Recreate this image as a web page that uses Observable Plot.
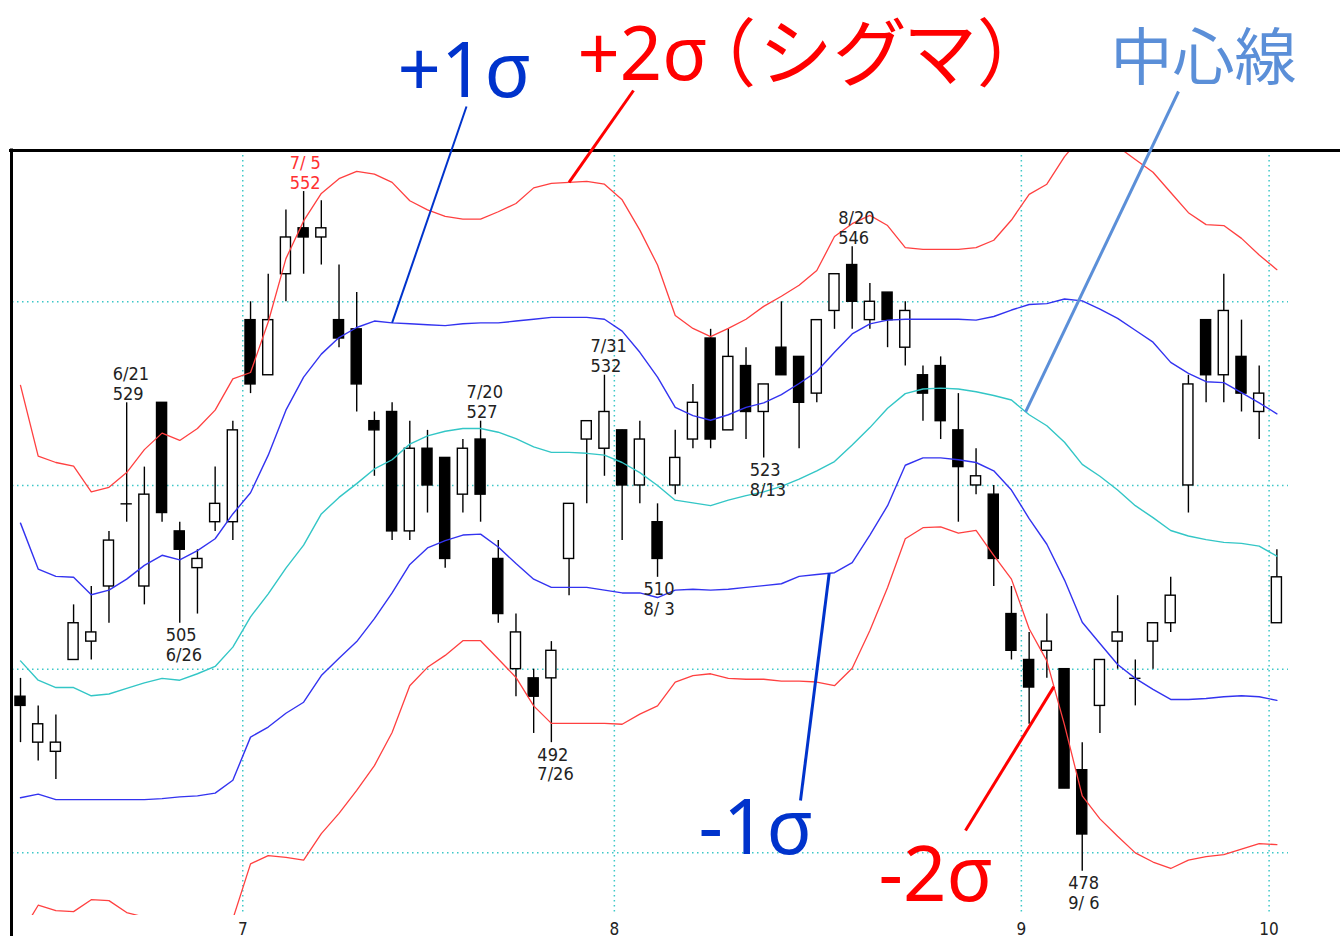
<!DOCTYPE html>
<html>
<head>
<meta charset="utf-8">
<script src="https://cdn.jsdelivr.net/npm/d3@7"></script>
<script src="https://cdn.jsdelivr.net/npm/@observablehq/plot@0.6"></script>
<style>
  html, body { margin: 0; padding: 0; background: #fff; }
  #chart svg { display: block; }
  #chart text { font-feature-settings: "palt" 1; }
</style>
</head>
<body>
<div id="chart"></div>
<script>
// ---- data ----
const dates = [
  "6/13","6/14","6/15","6/18","6/19","6/20","6/21","6/22","6/25","6/26","6/27","6/28","6/29",
  "7/2","7/3","7/4","7/5","7/6","7/9","7/10","7/11","7/12","7/13","7/17","7/18","7/19","7/20",
  "7/23","7/24","7/25","7/26","7/27","7/30","7/31",
  "8/1","8/2","8/3","8/6","8/7","8/8","8/9","8/10","8/13","8/14","8/15","8/16","8/17","8/20",
  "8/21","8/22","8/23","8/24","8/27","8/28","8/29","8/30","8/31",
  "9/3","9/4","9/5","9/6","9/7","9/10","9/11","9/12","9/13","9/14","9/18","9/19","9/20","9/21",
  "10/1"
];
const open  = [497,492,491,501,503,509,518,509,529,515,511,516,516,
  538,532,543,548,547,538,537,527,528,515,524,523,519,525,512,500,499,499,512,525,524,
  526,520,516,520,525,536,526,533,528,535,534,530,539,544,538,541,535,532,533,526,520,519,506,
  501,502,500,489,496,503,499,503,505,520,538,532,534,528,505];
const high  = [499,496,495,507,509,515,529,522,529,516,513,522,527,
  540,543,550,552,551,544,541,528,529,527,526,523,525,527,514,506,500,503,518,527,532,
  526,527,518,526,531,537,537,535,531,540,534,538,543,546,542,541,540,533,534,530,524,520,509,
  504,506,500,492,501,508,501,505,510,532,538,543,538,533,513];
const low   = [492,490,488,501,501,505,516,507,516,505,506,515,514,
  530,532,540,543,544,535,528,521,514,514,517,511,517,516,505,497,493,492,508,518,521,
  514,518,510,519,524,524,526,525,523,532,524,529,537,537,537,535,533,527,525,516,519,509,501,
  494,499,487,478,493,500,496,500,504,517,529,529,528,525,505];
const close = [496,494,492,505,504,514,518,519,517,513,512,518,526,
  531,538,547,547,548,536,531,526,515,524,520,512,524,519,506,504,497,502,518,527,528,
  520,525,512,523,529,525,534,528,531,532,529,538,543,540,540,538,539,530,527,522,521,512,502,
  498,503,487,482,501,504,499,505,508,531,532,539,530,530,510];

const mid = [500.9,498.8,498.0,498.0,497.1,497.3,497.9,498.5,499.0,498.8,499.5,500.3,502.4,
  505.7,508.2,511.0,513.5,516.9,518.7,520.2,521.8,522.8,524.5,525.4,525.9,526.2,526.2,
  525.8,525.1,524.2,523.6,523.6,523.5,523.3,522.5,521.4,520.0,518.4,518.1,517.8,518.4,
  518.9,519.3,519.9,520.7,521.6,522.6,524.4,526.3,528.4,530.0,530.5,530.6,530.5,530.2,
  529.8,529.3,527.7,526.5,524.7,522.3,521.0,519.5,517.8,516.5,515.1,514.5,514.1,513.8,
  513.7,513.4,512.3];
const upper1 = [515.9,510.9,510.1,510.0,508.1,508.6,509.8,511.3,512.4,511.9,512.9,514.2,516.9,
  519.2,523.3,528.2,531.8,534.3,536.1,537.2,537.9,537.7,537.6,537.5,537.4,537.6,537.7,
  537.7,537.9,538.1,538.3,538.3,538.3,538.1,536.8,534.5,531.8,528.5,527.6,527.1,527.7,
  528.5,529.0,529.9,531.1,532.4,534.5,536.5,537.6,538.0,538.1,538.1,538.1,538.1,538.0,
  538.4,539.1,539.7,539.8,540.3,540.1,539.2,538.2,536.9,535.6,533.4,532.2,531.3,531.2,
  530.1,529.0,527.8];
const lower1 = [486.0,486.4,485.8,485.8,485.8,485.8,485.8,485.8,485.9,486.1,486.2,486.5,487.9,
  492.6,493.7,495.2,496.4,499.3,501.2,503.0,505.5,508.3,511.4,513.2,514.0,514.6,514.7,
  513.3,511.5,509.8,508.9,508.9,508.9,508.6,508.3,508.3,507.8,508.6,508.7,508.6,508.7,
  508.9,509.1,509.3,510.1,510.3,510.5,511.6,514.6,517.8,522.2,523.0,523.0,522.8,522.5,
  521.6,519.5,516.4,513.6,509.7,505.1,502.8,500.5,499.0,497.8,496.7,496.7,496.8,497.0,
  497.1,497.0,496.6];
const upper2 = [530.9,523.2,522.5,522.1,519.3,519.8,521.4,523.9,525.7,524.9,526.2,528.2,531.6,
  532.3,537.8,544.7,548.8,551.8,553.4,554.2,553.9,553.0,551.0,550.0,549.3,549.0,549.0,
  549.8,550.7,552.4,552.9,553.0,553.1,552.8,551.1,547.8,544.0,538.5,537.1,536.2,537.1,
  538.1,539.5,540.6,541.8,543.4,547.1,548.5,549.4,548.3,545.9,545.7,545.7,545.7,545.9,
  546.7,548.9,551.7,552.8,555.8,558.1,557.4,556.9,555.5,554.1,551.9,549.7,548.4,548.3,
  546.9,545.1,543.5];
const lower2 = [471.1,474.3,473.7,473.6,474.9,474.8,473.5,473.0,472.6,472.8,472.1,472.5,472.8,
  478.8,479.7,479.5,479.2,482.1,484.3,486.8,489.5,493.1,498.2,500.2,501.5,503.1,503.1,
  501.1,499.1,496.0,494.1,494.1,494.1,494.1,494.0,495.1,496.0,498.6,499.3,499.5,499.0,
  498.9,498.9,498.7,498.7,498.6,498.2,500.1,504.2,508.9,514.2,515.4,515.5,514.8,515.1,
  512.4,509.8,504.4,500.9,493.9,486.2,483.7,481.8,480.0,479.0,478.3,479.2,479.6,479.8,
  480.4,481.0,480.9];

const gridValues = [480, 500, 520, 540];
const monthLabels = ["7", "8", "9", "10"];
const monthFirstIndex = [13, 34, 57, 71];
const highLabelIndex = [6, 16, 26, 33, 47];
const lowLabelIndex = [9, 30, 36, 42, 60];
const peakIndex = 16;

const annotTexts  = ["+1σ", "+2σ", "中心線", "-1σ", "-2σ"];
const annotSuffix = ["", "（シグマ）", "", "", ""];
const annotBands  = ["upper1", "upper2", "mid", "lower1", "lower2"];
const annotAtIndex = [21, 31, 56.8, 45.7, 58.4];

// ---- layout (pixels) ----
const W = 1340, H = 936;
const mTop = 150, mBottom = 21, mLeft = 10, mRight = 0;
const X0 = -0.565, X1 = 74.595;
const Y0 = 473.18, Y1 = 556.47;
const xInv = px => X0 + (px - mLeft) * (X1 - X0) / (W - mLeft - mRight);
const yInv = py => Y1 - (py - mTop) * (Y1 - Y0) / (H - mTop - mBottom);

const annotLayout = [
  {tx: 397, ty: 72, size: 76, color: "#0033cc", lx: 466, ly: 106, lw: 2, sx: 0},
  {tx: 577, ty: 56, size: 74, color: "#ff0000", lx: 633, ly: 90, lw: 3, sx: 716},
  {tx: 1110, ty: 60, size: 62, color: "#5b8fd8", lx: 1178, ly: 91, lw: 3, sx: 0},
  {tx: 698, ty: 829, size: 76, color: "#0033cc", lx: 800, ly: 800, lw: 3, sx: 0},
  {tx: 878, ty: 876, size: 76, color: "#ff0000", lx: 965, ly: 830, lw: 3, sx: 0}
];

// ---- build tables ----
const rows = dates.map((date, i) => ({
  i, date, open: open[i], high: high[i], low: low[i], close: close[i],
  mid: mid[i], upper1: upper1[i], lower1: lower1[i], upper2: upper2[i], lower2: lower2[i]
}));
const bands = {mid, upper1, lower1, upper2, lower2};
const bandAt = (key, t) => {
  const a = bands[key], k = Math.floor(t), f = t - k;
  return f === 0 ? a[k] : a[k] * (1 - f) + a[k + 1] * f;
};
const fmtDate = s => { const [m, d] = s.split("/"); return m + "/" + d.padStart(2, " "); };

const months = monthLabels.map((label, k) => ({label, pos: monthFirstIndex[k] - 0.44}));
const highLabels = highLabelIndex.map(i => ({i, y: high[i], text: fmtDate(dates[i]) + "\n" + high[i],
  color: i === peakIndex ? "#ff3030" : "#222"}));
const lowLabels = lowLabelIndex.map(i => ({i, y: low[i], text: low[i] + "\n" + fmtDate(dates[i]), color: "#222"}));
const annots = annotTexts.map((text, k) => ({
  text, suffix: annotSuffix[k], ...annotLayout[k],
  bx: annotAtIndex[k], by: bandAt(annotBands[k], annotAtIndex[k])
}));
const suffixes = annots.filter(d => d.suffix);

const up = rows.filter(d => d.close > d.open);
const down = rows.filter(d => d.close < d.open);
const doji = rows.filter(d => d.close === d.open);
const halfBody = 0.285;
const labelFont = "'Liberation Sans Narrow', 'DejaVu Sans Condensed', 'Liberation Sans', sans-serif";
const annotFont = "'Noto Sans', 'Noto Sans CJK JP', sans-serif";
const gridStroke = "#3cc8c8";

const chart = Plot.plot({
  width: W, height: H,
  marginTop: mTop, marginBottom: mBottom, marginLeft: mLeft, marginRight: mRight,
  x: {domain: [X0, X1], axis: null},
  y: {domain: [Y0, Y1], axis: null},
  color: {type: "identity"},
  style: {background: "white", overflow: "visible"},
  marks: [
    // dotted grid
    Plot.ruleY(gridValues, {y: d => d, x1: xInv(12), x2: xInv(1288), stroke: gridStroke, strokeWidth: 1.5, strokeDasharray: "1.5,3.5"}),
    Plot.ruleX(months, {x: "pos", stroke: gridStroke, strokeWidth: 1.5, strokeDasharray: "1.5,3.5"}),
    // month labels
    Plot.text(months, {x: "pos", text: "label", frameAnchor: "bottom", dy: 19, fontSize: 17, fill: "#222", fontFamily: labelFont}),
    // candles
    Plot.ruleX(rows, {x: "i", y1: "low", y2: "high", stroke: "#000", strokeWidth: 1.4}),
    Plot.rect(up, {x1: d => d.i - halfBody, x2: d => d.i + halfBody, y1: "open", y2: "close", fill: "white", stroke: "#000", strokeWidth: 1.4}),
    Plot.rect(down, {x1: d => d.i - halfBody, x2: d => d.i + halfBody, y1: "open", y2: "close", fill: "#000", stroke: "#000", strokeWidth: 1.4}),
    Plot.ruleY(doji, {y: "open", x1: d => d.i - 0.32, x2: d => d.i + 0.32, stroke: "#000", strokeWidth: 1.4}),
    // Bollinger bands
    Plot.line(rows, {x: "i", y: "mid", stroke: "#33c6c6", strokeWidth: 1.4, clip: true}),
    Plot.line(rows, {x: "i", y: "upper1", stroke: "#3333f0", strokeWidth: 1.4, clip: true}),
    Plot.line(rows, {x: "i", y: "lower1", stroke: "#3333f0", strokeWidth: 1.4, clip: true}),
    Plot.line(rows, {x: "i", y: "upper2", stroke: "#ff4040", strokeWidth: 1.3, clip: true}),
    Plot.line(rows, {x: "i", y: "lower2", stroke: "#ff4040", strokeWidth: 1.3, clip: true}),
    // high / low labels
    Plot.text(highLabels, {x: "i", y: "y", text: "text", fill: "color", textAnchor: "start", lineAnchor: "bottom",
      dx: -14, dy: -3, fontSize: 18, lineHeight: 1.1, fontFamily: labelFont}),
    Plot.text(lowLabels, {x: "i", y: "y", text: "text", fill: "color", textAnchor: "start", lineAnchor: "top",
      dx: -14, dy: 4, fontSize: 18, lineHeight: 1.1, fontFamily: labelFont}),
    // frame (top and left edges)
    Plot.ruleY([Y1], {x1: xInv(9), x2: X1, stroke: "#000", strokeWidth: 3}),
    Plot.ruleX([xInv(11)], {y1: Y1 + 0.17, y2: yInv(940), stroke: "#000", strokeWidth: 3}),
    // annotations
    Plot.link(annots, {x1: d => xInv(d.lx), y1: d => yInv(d.ly), x2: "bx", y2: "by", stroke: "color", strokeWidth: d => d.lw}),
    Plot.text(annots, {x: d => xInv(d.tx), y: d => yInv(d.ty), text: "text", fill: "color", fontSize: d => d.size,
      textAnchor: "start", lineAnchor: "middle", fontFamily: annotFont}),
    Plot.text(suffixes, {x: d => xInv(d.sx), y: d => yInv(d.ty), text: "suffix", fill: "color", fontSize: d => d.size,
      textAnchor: "start", lineAnchor: "middle", fontFamily: annotFont})
  ]
});
// widen the katakana annotation to the reference's spacing
d3.select(chart).selectAll("text")
  .filter(function () { return annotSuffix.some(s => s && this.textContent === s); })
  .attr("letter-spacing", 6);
document.getElementById("chart").appendChild(chart);
</script>
</body>
</html>
